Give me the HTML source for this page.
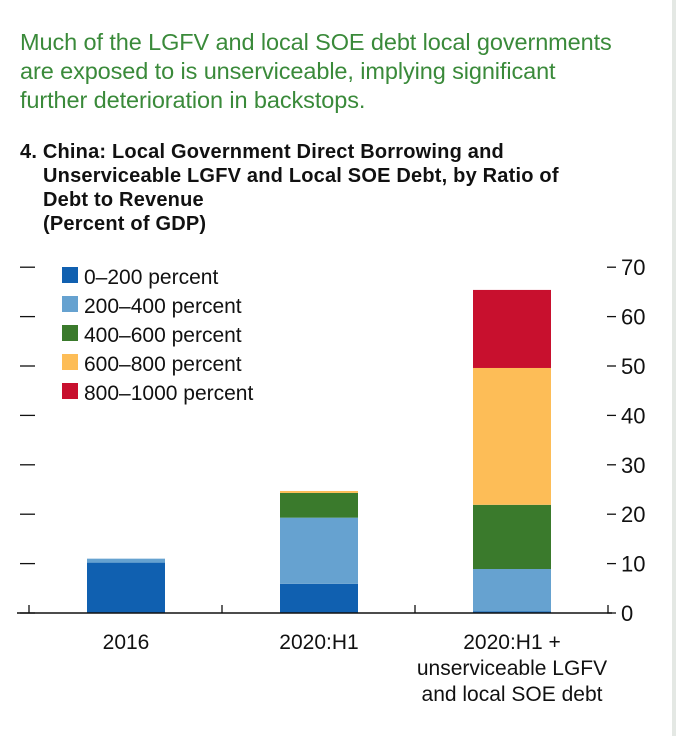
<!DOCTYPE html>
<html><head><meta charset="utf-8"><style>
body{margin:0;background:#fff;font-family:"Liberation Sans",sans-serif;}
.wrap{position:relative;width:676px;height:736px;overflow:hidden;}
.head{position:absolute;left:20px;top:28px;font-size:23.5px;line-height:29px;color:#3a8a3a;letter-spacing:-0.1px;}
.title{position:absolute;left:20px;top:140px;font-size:20px;line-height:24px;font-weight:bold;color:#111;letter-spacing:0.2px;}
.edge{position:absolute;right:0;top:0;width:4px;height:736px;background:#e4e8e4;}
</style></head><body>
<div class="wrap">
<div class="head">Much of the LGFV and local SOE debt local governments<br>are exposed to is unserviceable, implying significant<br>further deterioration in backstops.</div>
<div class="title">4. China: Local Government Direct Borrowing and<br>&nbsp;&nbsp;&nbsp;&nbsp;Unserviceable LGFV and Local SOE Debt, by Ratio of<br>&nbsp;&nbsp;&nbsp;&nbsp;Debt to Revenue<br>&nbsp;&nbsp;&nbsp;&nbsp;(Percent of GDP)</div>
<div class="edge"></div>
<svg id="chart" width="676" height="736" style="position:absolute;left:0;top:0"></svg>
</div>
<script>
const categories=[["2016"],["2020:H1"],["2020:H1 +","unserviceable LGFV","and local SOE debt"]];
const seriesNames=["0–200 percent","200–400 percent","400–600 percent","600–800 percent","800–1000 percent"];
const colors=["#1060b0","#66a2d0","#3a7a2c","#fdbd57","#c8102e"];
const s0=[10.2,5.9,0.3];
const s1=[0.8,13.4,8.6];
const s2=[0,5.0,13.0];
const s3=[0,0.4,27.7];
const s4=[0,0,15.8];
const series=[s0,s1,s2,s3,s4];
const ticks=[0,10,20,30,40,50,60,70];
const NS="http://www.w3.org/2000/svg";
const svg=document.getElementById('chart');
const y0=613,ppu=4.94;
function y(v){return y0-v*ppu;}
function xc(i){return 126+i*193;}
const bw=78;
function mk(t,a){const e=document.createElementNS(NS,t);for(const k in a)e.setAttribute(k,a[k]);svg.appendChild(e);return e;}
ticks.forEach(t=>{
  let l=mk('line',{x1:20,x2:35,y1:y(t),y2:y(t),stroke:'#111','stroke-width':1.3});
  
  
  let r=mk('line',{x1:607,x2:616,y1:y(t),y2:y(t),stroke:'#111','stroke-width':1.3});
  
  
  let tx=mk('text',{x:621,y:y(t)+8,'font-size':22,fill:'#111','font-family':'Liberation Sans, sans-serif'});
  tx.textContent=t;
  
  
});
categories.forEach((c,i)=>{
  let base=0;
  series.forEach((s,j)=>{
    if(s[i]<=0)return;
    let r=mk('rect',{x:xc(i)-bw/2,y:y(base+s[i]),width:bw,height:s[i]*ppu,fill:colors[j]});
    
    
    base+=s[i];
  });
  c.forEach((ln,k)=>{
    let t=mk('text',{x:xc(i),y:649+k*26,'font-size':21,fill:'#111','text-anchor':'middle','font-family':'Liberation Sans, sans-serif'});
    t.textContent=ln;
    
    
  });
});
let ax=mk('line',{x1:17,x2:612,y1:y0,y2:y0,stroke:'#111','stroke-width':1.5});


[29,222,415,608].forEach(xx=>{
  let t=mk('line',{x1:xx,x2:xx,y1:y0,y2:y0-8,stroke:'#111','stroke-width':1.3});
  
  
});
seriesNames.forEach((n,j)=>{
  let r=mk('rect',{x:62,y:267+j*29,width:16,height:16,fill:colors[j]});
  
  
  let t=mk('text',{x:84,y:284+j*29,'font-size':21,fill:'#111','font-family':'Liberation Sans, sans-serif'});
  t.textContent=n;
  
  
});
</script>
</body></html>
